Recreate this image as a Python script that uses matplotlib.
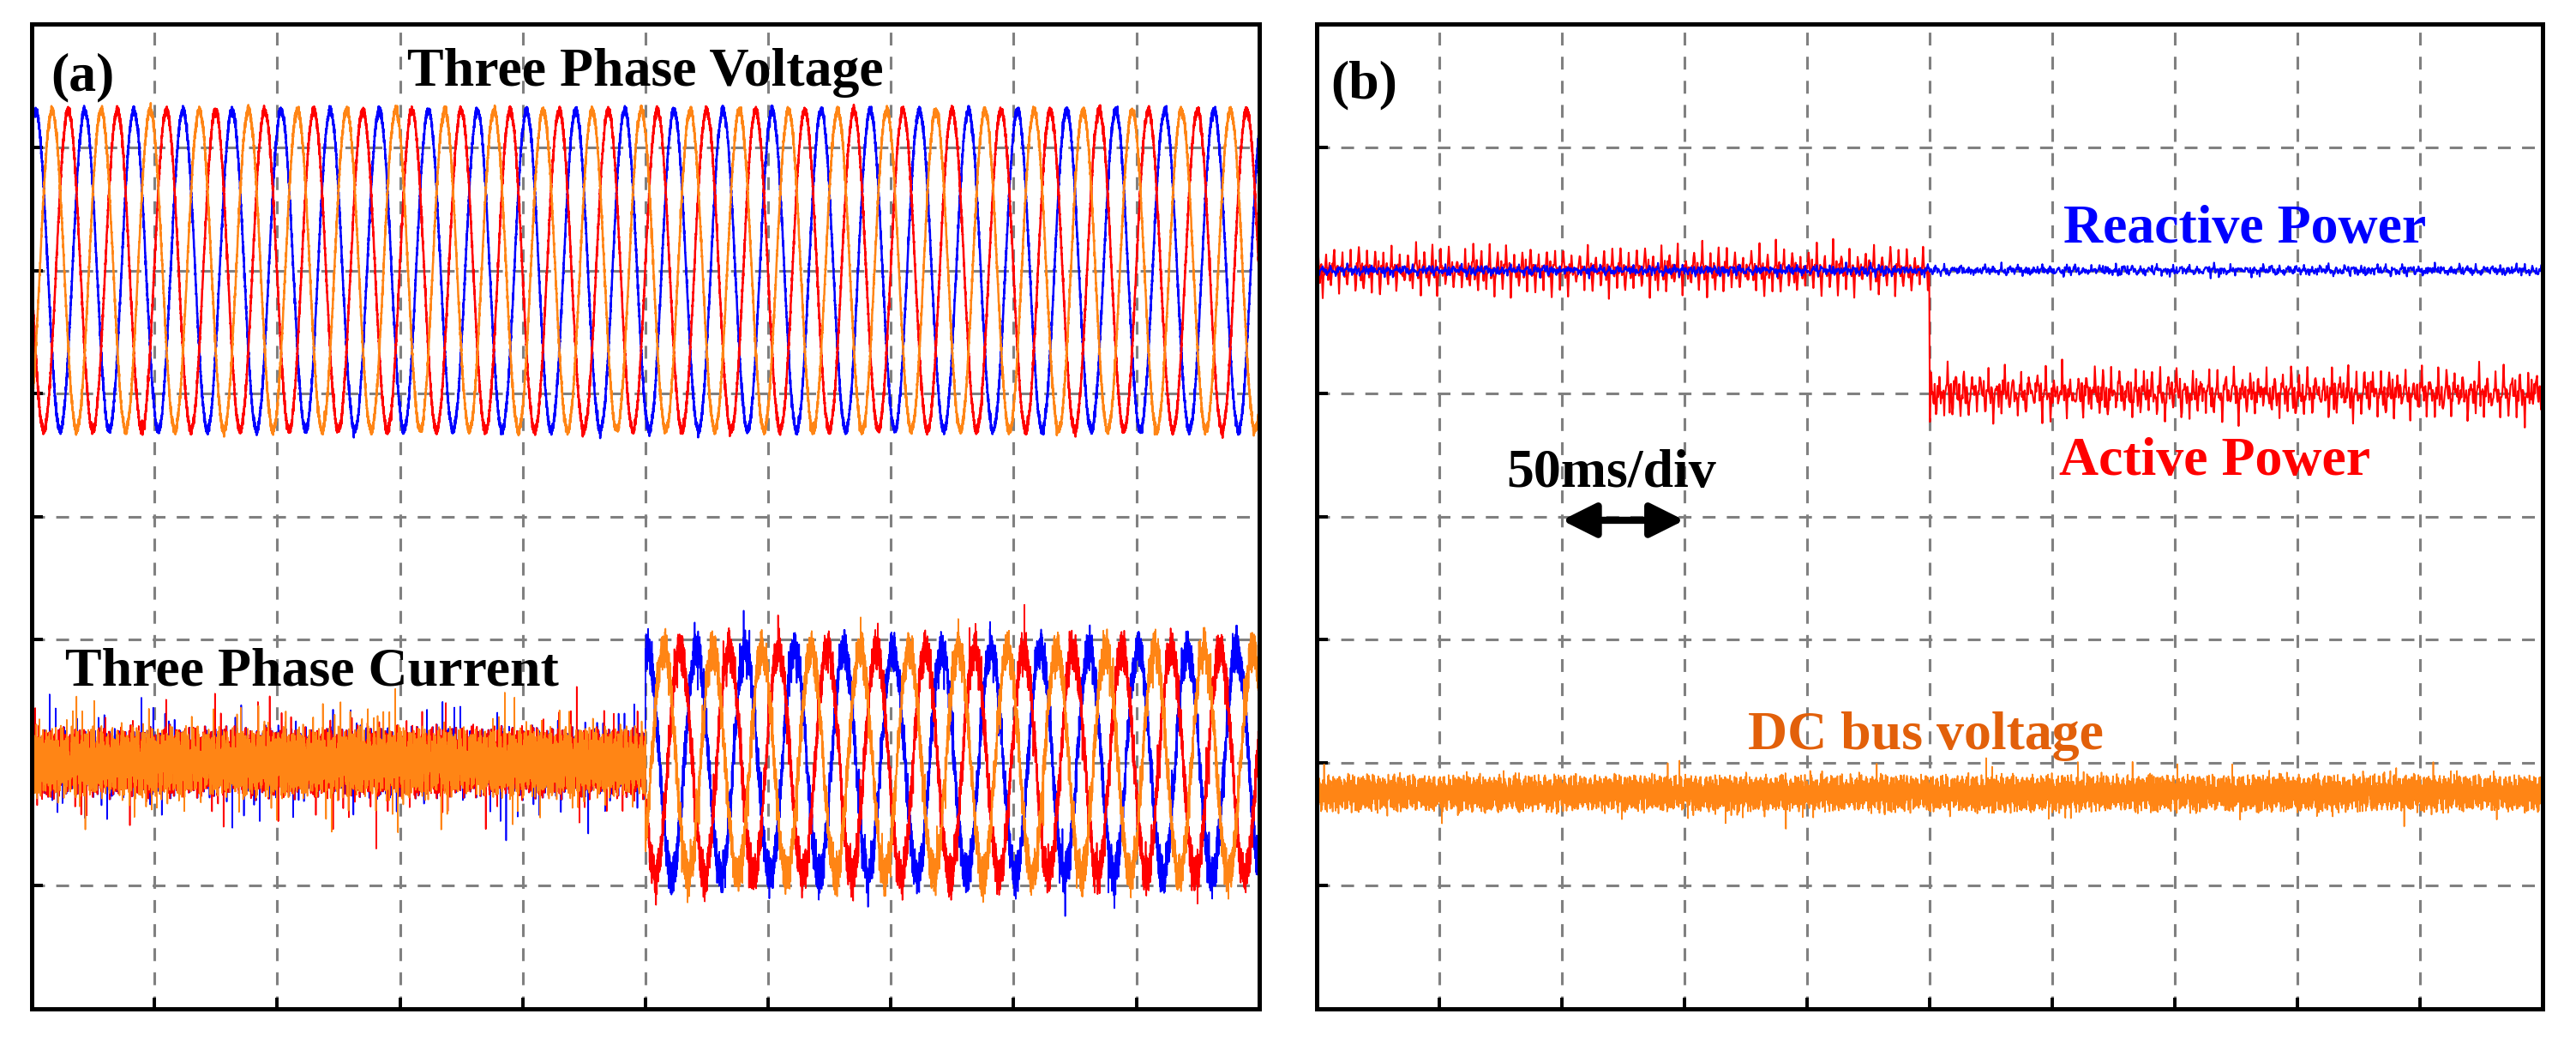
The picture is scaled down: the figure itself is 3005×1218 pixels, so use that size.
import numpy as np
import matplotlib
matplotlib.use('Agg')
import matplotlib.pyplot as plt

# ---------------- data (y in divisions, 8 div high) ----------------
t_end_ms = 500            # 10 div x 50 ms/div
step_ms = 250             # load step instant
grid_freq_hz = 50

# three phase voltage: centre, amplitude, time of first peak for phase a/b/c (blue, orange, red)
volt_center = 6.0
volt_amp = 1.3
volt_peak_ms = [1.6, 8.3, 14.9]

# three phase current: centre, amplitude before/after the step, time of peak after the step
curr_center = 2.0
curr_amp = [0.0, 0.92]
curr_peak_ms = [250.8, 257.5, 264.1]

# power levels before/after the step
q_level = [6.0, 6.0]      # reactive power
p_level = [6.0, 5.0]      # active power
p_step_dip = 4.77         # undershoot right at the step
udc_level = 1.75          # DC bus voltage

# ripple heights (div): [band, spikes]
volt_ripple = [0.045, 0.05]
curr_ripple_pre = [0.32, 0.4]
curr_ripple_post = [0.2, 0.22]
udc_ripple = [0.17, 0.14]
q_ripple = [0.035, 0.04]
p_ripple_pre = [0.06, 0.2]
p_ripple_post = [0.1, 0.2]

# hand-read ripple shapes, normalised to about +-1
RIPPLE_A = [0.42, -0.81, 0.13, 0.95, -0.37, -0.66, 0.58, 0.07, -0.92, 0.71, -0.15, 0.33, -0.54,
            0.88, -0.02, -0.77, 0.46, 0.21, -0.63, 0.99, -0.41, 0.05, 0.67, -0.88, 0.29, -0.19,
            0.52, -0.71, 0.84, -0.33, 0.11, -0.96, 0.62, 0.38, -0.49, 0.17, -0.85, 0.74, -0.08,
            0.56, -0.27, 0.91, -0.6, 0.24, -0.44, 0.81, -0.12, -0.69, 0.35, 0.02, -0.58, 0.77, -0.23]
RIPPLE_B = [-0.3, 0.6, -0.9, 0.2, 0.75, -0.45, 0.1, -0.65, 0.85, -0.15, 0.4, -0.8, 0.55, -0.05,
            0.95, -0.5, 0.25, -0.7, 0.65, -0.35, 0.0, 0.45, -0.95, 0.3, 0.8, -0.6, 0.15, -0.25,
            0.7, -0.85, 0.5, -0.1, 0.35, -0.55, 0.9, -0.4, 0.05, -0.75, 0.6, -0.2, 0.3]
SPIKE_FRAME = 223
SPIKE_POS = [5, 31, 52, 77, 101, 126, 149, 171, 198, 214]
SPIKE_VAL = [0.9, -0.7, 0.55, -1.0, 0.8, -0.6, 1.0, -0.85, 0.65, -0.75]
SPIKE_GAIN = [1.0, 0.6, 0.85, 0.4, 0.95, 0.7, 0.5, 0.9, 0.65, 0.8, 0.45, 1.0, 0.75]
# 300 Hz power ripple, one period
RIPPLE_300 = [0.05, 0.4, 1.0, 0.35, -0.1, -0.3, 0.0, 0.25, -0.35, -1.0, -0.4, 0.1]
RIPPLE_300_GAIN = [1.0, 0.7, 0.9, 0.55, 0.8, 1.0, 0.65]

# ---------------- style ----------------
phase_colors = ['#0000FF', '#FF8515', '#FF0000']
draw_order = [0, 2, 1]
grid_color = '#808080'
serif = ['Liberation Serif', 'DejaVu Serif']
txt = dict(family=serif, weight='bold', fontsize=23)


def ripple(n, shift):
    i = np.arange(n) + shift
    a = np.take(RIPPLE_A, i % len(RIPPLE_A))
    b = np.take(RIPPLE_B, (2 * i + shift) % len(RIPPLE_B))
    return 0.6 * a + 0.4 * b


def spikes(n, shift):
    i = np.arange(n) + shift
    frame = np.zeros(SPIKE_FRAME)
    frame[SPIKE_POS] = SPIKE_VAL
    gain = np.take(SPIKE_GAIN, (i // SPIKE_FRAME) % len(SPIKE_GAIN))
    return frame[i % SPIKE_FRAME] * gain


def ripple_300(n, shift):
    i = np.arange(n) + shift
    per = len(RIPPLE_300)
    gain = np.take(RIPPLE_300_GAIN, (i // per) % len(RIPPLE_300_GAIN))
    return np.take(RIPPLE_300, i % per) * gain


def wave(t, amp, peak_ms):
    return amp * np.cos(2 * np.pi * grid_freq_hz * (t - peak_ms) / 1000.0)


def style_axes(ax):
    ax.set_xlim(0, t_end_ms)
    ax.set_ylim(0, 8)
    ax.set_xticks(np.arange(50, t_end_ms, 50))
    ax.set_yticks(np.arange(1, 8))
    ax.set_xticklabels([])
    ax.set_yticklabels([])
    ax.tick_params(direction='in', length=4.7, width=1.4, color='black',
                   top=False, right=False)
    ax.grid(True, color=grid_color, linewidth=1.1, linestyle=(0, (4.9, 4.3)))
    ax.set_axisbelow(True)
    for s in ax.spines.values():
        s.set_linewidth(1.8)
        s.set_color('black')


fig = plt.figure(figsize=(15.025, 6.09), dpi=200)
ax_a = fig.add_axes([0.0123, 0.0337, 0.4765, 0.943])
ax_b = fig.add_axes([0.5111, 0.0337, 0.4759, 0.943])

# ---------------- (a) three phase voltage / current ----------------
n_a = 10000
t_a = np.linspace(0, t_end_ms, n_a)
after = t_a >= step_ms
for k in draw_order:
    v = volt_center + wave(t_a, volt_amp, volt_peak_ms[k]) \
        + volt_ripple[0] * ripple(n_a, 17 * k) + volt_ripple[1] * spikes(n_a, 71 * k)
    ax_a.plot(t_a, v, color=phase_colors[k], lw=0.9)

for k in draw_order:
    i_pre = curr_ripple_pre[0] * ripple(n_a, 29 * k + 5) + curr_ripple_pre[1] * spikes(n_a, 83 * k + 3)
    i_post = wave(t_a, curr_amp[1], curr_peak_ms[k]) \
        + curr_ripple_post[0] * ripple(n_a, 29 * k + 5) + curr_ripple_post[1] * spikes(n_a, 83 * k + 3)
    i = curr_center + np.where(after, i_post, i_pre)
    ax_a.plot(t_a, i, color=phase_colors[k], lw=0.6)

style_axes(ax_a)
ax_a.text(7.7, 7.46, '(a)', ha='left', va='baseline', **txt)
ax_a.text(250, 7.5, 'Three Phase Voltage', ha='center', va='baseline', **txt)
ax_a.text(13.6, 2.63, 'Three Phase Current', ha='left', va='baseline', **txt)

# ---------------- (b) powers and DC bus ----------------
n_u = 10000
t_u = np.linspace(0, t_end_ms, n_u)
udc = udc_level + udc_ripple[0] * ripple(n_u, 11) + udc_ripple[1] * spikes(n_u, 40)
ax_b.plot(t_u, udc, color=phase_colors[1], lw=0.6)

n_p = 1800
t_p = np.linspace(0, t_end_ms, n_p)
after_p = t_p >= step_ms
p = np.where(after_p,
             p_level[1] + p_ripple_post[0] * ripple(n_p, 3) + p_ripple_post[1] * ripple_300(n_p, 0),
             p_level[0] + p_ripple_pre[0] * ripple(n_p, 3) + p_ripple_pre[1] * ripple_300(n_p, 0))
p[np.argmax(after_p)] = p_step_dip
q = np.where(after_p, q_level[1], q_level[0]) \
    + q_ripple[0] * ripple(n_p, 21) + q_ripple[1] * ripple_300(n_p, 5)
ax_b.plot(t_p, p, color=phase_colors[2], lw=0.75)
ax_b.plot(t_p, q, color=phase_colors[0], lw=0.75)

style_axes(ax_b)
ax_b.text(5.9, 7.40, '(b)', ha='left', va='baseline', **txt)
ax_b.text(304.5, 6.23, 'Reactive Power', ha='left', va='baseline', color='#0000FF', **txt)
ax_b.text(302.8, 4.34, 'Active Power', ha='left', va='baseline', color='#FF0000', **txt)
ax_b.text(77.3, 4.24, '50ms/div', ha='left', va='baseline', color='black', **txt)
ax_b.text(175.9, 2.11, 'DC bus voltage', ha='left', va='baseline', color='#E2600A', **txt)
ax_b.annotate('', xy=(150, 3.97), xytext=(100, 3.97),
              arrowprops=dict(arrowstyle='<|-|>,head_length=1.2,head_width=0.6',
                              mutation_scale=10, lw=3.0, color='black',
                              shrinkA=0, shrinkB=0))

fig.savefig('out.png', dpi=200)
